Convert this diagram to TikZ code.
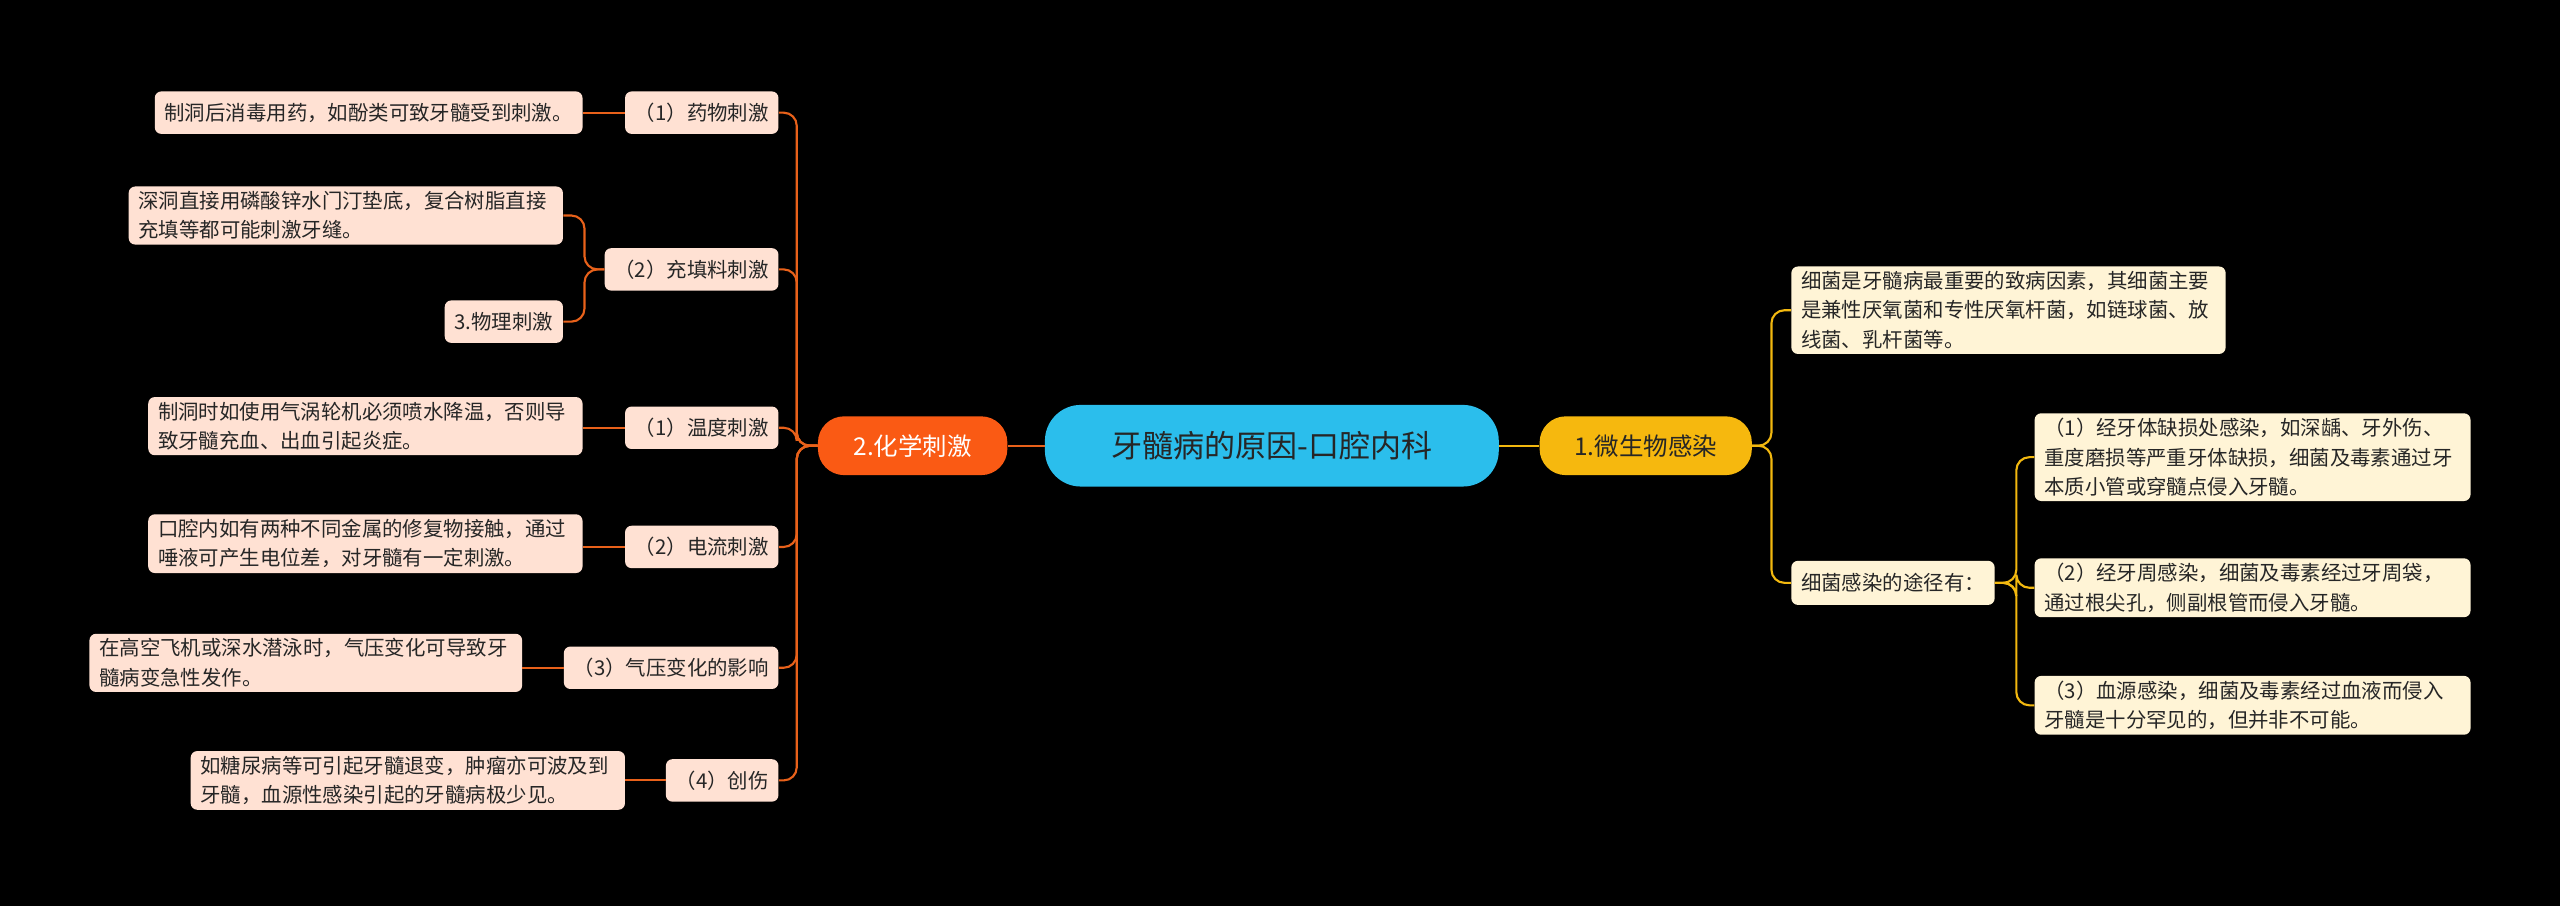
\documentclass[tikz,border=0pt]{standalone}
\usepackage{fontspec}
\newfontfamily\cjk{Noto Sans CJK SC}
\begin{document}
\begin{tikzpicture}[x=1pt,y=-1pt,
  base/.style={rounded corners=4pt,inner xsep=6pt,inner ysep=3pt,font=\cjk\fontsize{12.5}{18}\selectfont,text=black!85},
  leafL/.style={base,fill=orange!15!white,fill=leafpink,align=left},
  tagL/.style={base,fill=leafpink,minimum height=26pt},
  leafR/.style={base,fill=leafyel,align=left},
  lineL/.style={draw=lineor,line width=1.3pt,rounded corners=8pt},
  lineR/.style={draw=lineyel,line width=1.3pt,rounded corners=8pt}]
\definecolor{leafpink}{HTML}{FFE1D3}
\definecolor{leafyel}{HTML}{FFF4D6}
\definecolor{lineor}{HTML}{E8611A}
\definecolor{lineyel}{HTML}{F2B80F}
\fill[black] (0,0) rectangle (1568,555);
\useasboundingbox (0,0) rectangle (1568,555);
% center
\node[rounded corners=22pt,fill={rgb,255:red,43;green,190;blue,236},minimum width=278pt,minimum height=50pt,font=\cjk\fontsize{19}{22}\selectfont,text=black!85] (c) at (779,273) {牙髓病的原因-口腔内科};
\node[rounded corners=16pt,fill={rgb,255:red,246;green,184;blue,14},minimum width=130pt,minimum height=36pt,font=\cjk\fontsize{15}{18}\selectfont,text=black!85] (r) at (1008,273) {1.微生物感染};
\node[rounded corners=16pt,fill={rgb,255:red,250;green,90;blue,20},minimum width=116pt,minimum height=36pt,font=\cjk\fontsize{15}{18}\selectfont,text=white] (l) at (559,273) {2.化学刺激};
\draw[lineR] (c.east) -- (r.west);
\draw[lineL] (c.west) -- (l.west-|l.east);
% right side
\node[leafR,anchor=west,text width=254pt] (r1) at (1097,190) {细菌是牙髓病最重要的致病因素，其细菌主要\\是兼性厌氧菌和专性厌氧杆菌，如链球菌、放\\线菌、乳杆菌等。};
\node[leafR,anchor=west,minimum height=27pt] (r2) at (1097,357) {细菌感染的途径有：};
\node[leafR,anchor=west,text width=255pt] (r21) at (1246,280) {（1）经牙体缺损处感染，如深龋、牙外伤、\\重度磨损等严重牙体缺损，细菌及毒素通过牙\\本质小管或穿髓点侵入牙髓。};
\node[leafR,anchor=west,text width=255pt] (r22) at (1246,360) {（2）经牙周感染，细菌及毒素经过牙周袋，\\通过根尖孔，侧副根管而侵入牙髓。};
\node[leafR,anchor=west,text width=255pt] (r23) at (1246,432) {（3）血源感染，细菌及毒素经过血液而侵入\\牙髓是十分罕见的，但并非不可能。};
\foreach \t in {r1,r2} \draw[lineR] (r.east) -- (1085,273) |- (\t.west);
\foreach \t in {r21,r22,r23} \draw[lineR] (r2.east) -- (1235,357) |- (\t.west);
% left tags
\node[tagL,anchor=east] (t1) at (477,69) {（1）药物刺激};
\node[tagL,anchor=east] (t2) at (477,165) {（2）充填料刺激};
\node[tagL,anchor=east] (t3) at (477,262) {（1）温度刺激};
\node[tagL,anchor=east] (t4) at (477,335) {（2）电流刺激};
\node[tagL,anchor=east] (t5) at (477,409) {（3）气压变化的影响};
\node[tagL,anchor=east] (t6) at (477,478) {（4）创伤};
\foreach \t in {t1,t2,t3,t4,t5,t6} \draw[lineL] (l.west) -- (488,273) |- (\t.east);
% left leaves
\node[leafL,anchor=east,minimum height=26pt] (a1) at (357,69) {制洞后消毒用药，如酚类可致牙髓受到刺激。};
\node[leafL,anchor=east,text width=254pt] (a2) at (345,132) {深洞直接用磷酸锌水门汀垫底，复合树脂直接\\充填等都可能刺激牙缝。};
\node[leafL,anchor=east,minimum height=26pt] (a3) at (345,197) {3.物理刺激};
\node[leafL,anchor=east,text width=254pt] (a4) at (357,261) {制洞时如使用气涡轮机必须喷水降温，否则导\\致牙髓充血、出血引起炎症。};
\node[leafL,anchor=east,text width=254pt] (a5) at (357,333) {口腔内如有两种不同金属的修复物接触，通过\\唾液可产生电位差，对牙髓有一定刺激。};
\node[leafL,anchor=east,text width=253pt] (a6) at (320,406) {在高空飞机或深水潜泳时，气压变化可导致牙\\髓病变急性发作。};
\node[leafL,anchor=east,text width=254pt] (a7) at (383,478) {如糖尿病等可引起牙髓退变，肿瘤亦可波及到\\牙髓，血源性感染引起的牙髓病极少见。};
\draw[lineL] (t1.west) -- (a1.east);
\draw[lineL] (t2.west) -- (358,165) |- (a2.east);
\draw[lineL] (t2.west) -- (358,165) |- (a3.east);
\draw[lineL] (t3.west) -- (a4.east|-t3.west);
\draw[lineL] (t4.west) -- (a5.east|-t4.west);
\draw[lineL] (t5.west) -- (a6.east|-t5.west);
\draw[lineL] (t6.west) -- (a7.east|-t6.west);
\end{tikzpicture}
\end{document}
